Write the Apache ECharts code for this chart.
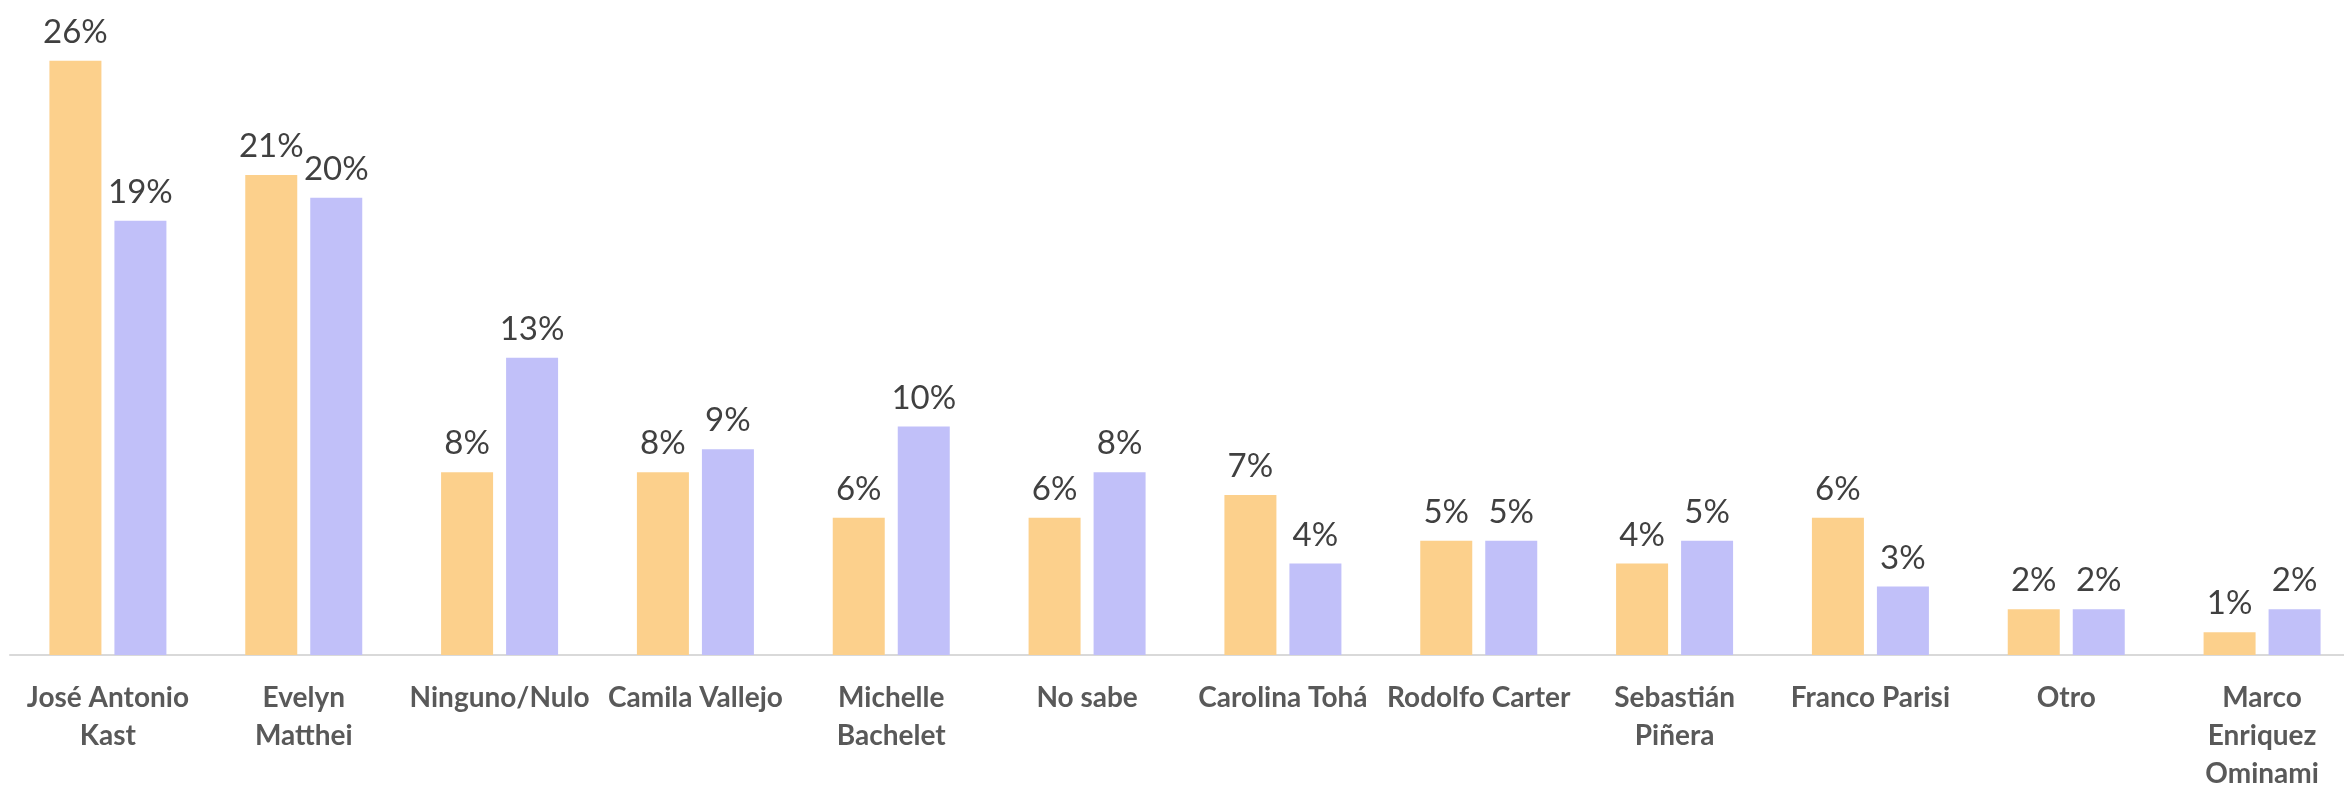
<!doctype html>
<html>
<head>
<meta charset="utf-8">
<title>Preferencias</title>
<style>
	html, body { margin: 0; padding: 0; background: #fff; }
	#main { width: 2344px; height: 789px; }
</style>
<script src="https://cdn.jsdelivr.net/npm/echarts@6/dist/echarts.min.js"></script>
</head>
<body>
<div id="main"></div>
<script>
	// categorias (saltos de linea como en el original)
	var candidatos = ['José Antonio\nKast', 'Evelyn\nMatthei', 'Ninguno/Nulo', 'Camila Vallejo',
		'Michelle\nBachelet', 'No sabe', 'Carolina Tohá', 'Rodolfo Carter',
		'Sebastián\nPiñera', 'Franco Parisi', 'Otro', 'Marco\nEnriquez\nOminami'];
	var serie1 = [26, 21, 8, 8, 6, 6, 7, 5, 4, 6, 2, 1];
	var serie2 = [19, 20, 13, 9, 10, 8, 4, 5, 5, 3, 2, 2];

	var myChart = echarts.init(document.getElementById('main'));

	var etiqueta = {
		show: true,
		position: 'top',
		distance: 12,
		formatter: '{c}%',
		fontFamily: 'Lato',
		fontSize: 33,
		color: '#404040'
	};

	var option = {
		animation: false,
		grid: { left: 10, width: 2350, top: 15, bottom: 134, outerBoundsMode: 'none' },
		xAxis: {
			type: 'category',
			data: candidatos,
			axisLine: { lineStyle: { color: '#d9d9d9', width: 2 } },
			axisTick: { show: false },
			axisLabel: {
				interval: 0,
				margin: 24,
				fontFamily: 'Lato',
				fontWeight: 'bold',
				fontSize: 28,
				lineHeight: 38,
				color: '#595959'
			}
		},
		yAxis: {
			type: 'value',
			min: 0,
			max: 28,
			show: false,
			splitLine: { show: false }
		},
		series: [
			{
				name: 'Serie 1',
				type: 'bar',
				data: serie1,
				barWidth: 52,
				barGap: '25%',
				itemStyle: { color: '#fcd08c' },
				label: etiqueta
			},
			{
				name: 'Serie 2',
				type: 'bar',
				data: serie2,
				barWidth: 52,
				itemStyle: { color: '#c1c0f9' },
				label: etiqueta
			}
		]
	};
	myChart.setOption(option);
</script>
</body>
</html>
